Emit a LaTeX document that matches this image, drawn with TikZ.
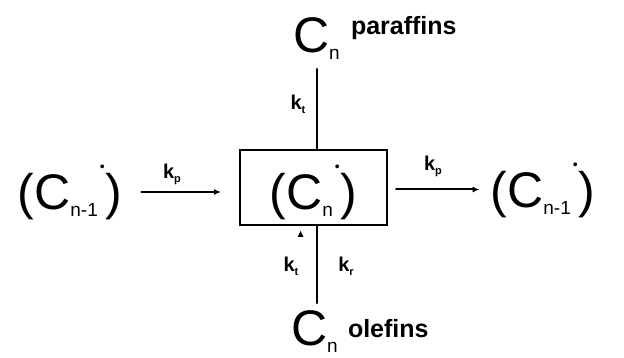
\documentclass[tikz,border=0pt]{standalone}
\usepackage{fontspec}
\setmainfont{Liberation Sans}
\usetikzlibrary{arrows.meta}
\newcommand{\lowsub}[1]{\raisebox{-7pt}{\fontsize{19}{19}\selectfont #1}}
\newcommand{\raddot}{\kern2pt\raisebox{38pt}{\fontsize{14}{14}\selectfont •}\kern1pt}
\newcommand{\kk}[1]{k\raisebox{-4pt}{\fontsize{11}{11}\selectfont #1}}

\begin{document}
\begin{tikzpicture}[x=1pt, y=-1pt, line width=2pt, line cap=round,
	big/.style={font=\fontsize{50}{52}\selectfont, inner sep=0pt},
	lbl/.style={font=\bfseries\fontsize{25}{27}\selectfont, inner sep=0pt, anchor=base west},
	klbl/.style={font=\bfseries\fontsize{20}{22}\selectfont, inner sep=0pt},
	rxn/.style={-{Latex[length=7pt,width=6pt]}}]
	\useasboundingbox (0,0) rectangle (624,358);
	\node[big, anchor=base] (rleft) at (70,210) {(C\lowsub{n-1}\raddot)};
	\node[big, draw, text height=50pt, text depth=5pt, minimum width=147pt, minimum height=75pt] (box) at (313.5,187.5) {(C\lowsub{n}\raddot)};
	\node[big, anchor=base] (rright) at (543,208) {(C\lowsub{n-1}\raddot)};
	\node[big, anchor=base west] (topc) at (292,53) {C\lowsub{n}};
	\node[lbl] (para) at (350,35) {paraffins};
	\node[big, anchor=base west] (botc) at (290,345) {C\lowsub{n}};
	\node[lbl] (olef) at (347,337) {olefins};
	% rate constants
	\node[klbl] (kt) at (298,104) {\kk{t}};
	\node[klbl] (kpl) at (172,174) {\kk{p}};
	\node[klbl] (kpr) at (433,166) {\kk{p}};
	\node[klbl] (ktb) at (291,266) {\kk{t}};
	\node[klbl] (kr) at (346,266) {\kk{r}};
	% connectors
	\draw[rxn, shorten <=18pt, shorten >=18pt] ([yshift=-4.5pt]rleft.east |- box.west) -- ([yshift=-4.5pt]box.west);
	\draw[rxn, shorten <=8pt, shorten >=10pt] ([yshift=-2pt]box.east) -- ([yshift=-2pt]box.east -| rright.west);
	\draw[shorten >=8pt] ([xshift=3pt]box.north) -- ([xshift=3pt]box.north |- topc.south);
	\draw[shorten >=6pt] ([xshift=3pt]box.south) -- ([xshift=3pt]box.south |- botc.north);
	\fill ([xshift=-16pt,yshift=-11pt]box.south) -- ([xshift=-13pt,yshift=-5pt]box.south) -- ([xshift=-10pt,yshift=-11pt]box.south) -- cycle;
\end{tikzpicture}
\end{document}
